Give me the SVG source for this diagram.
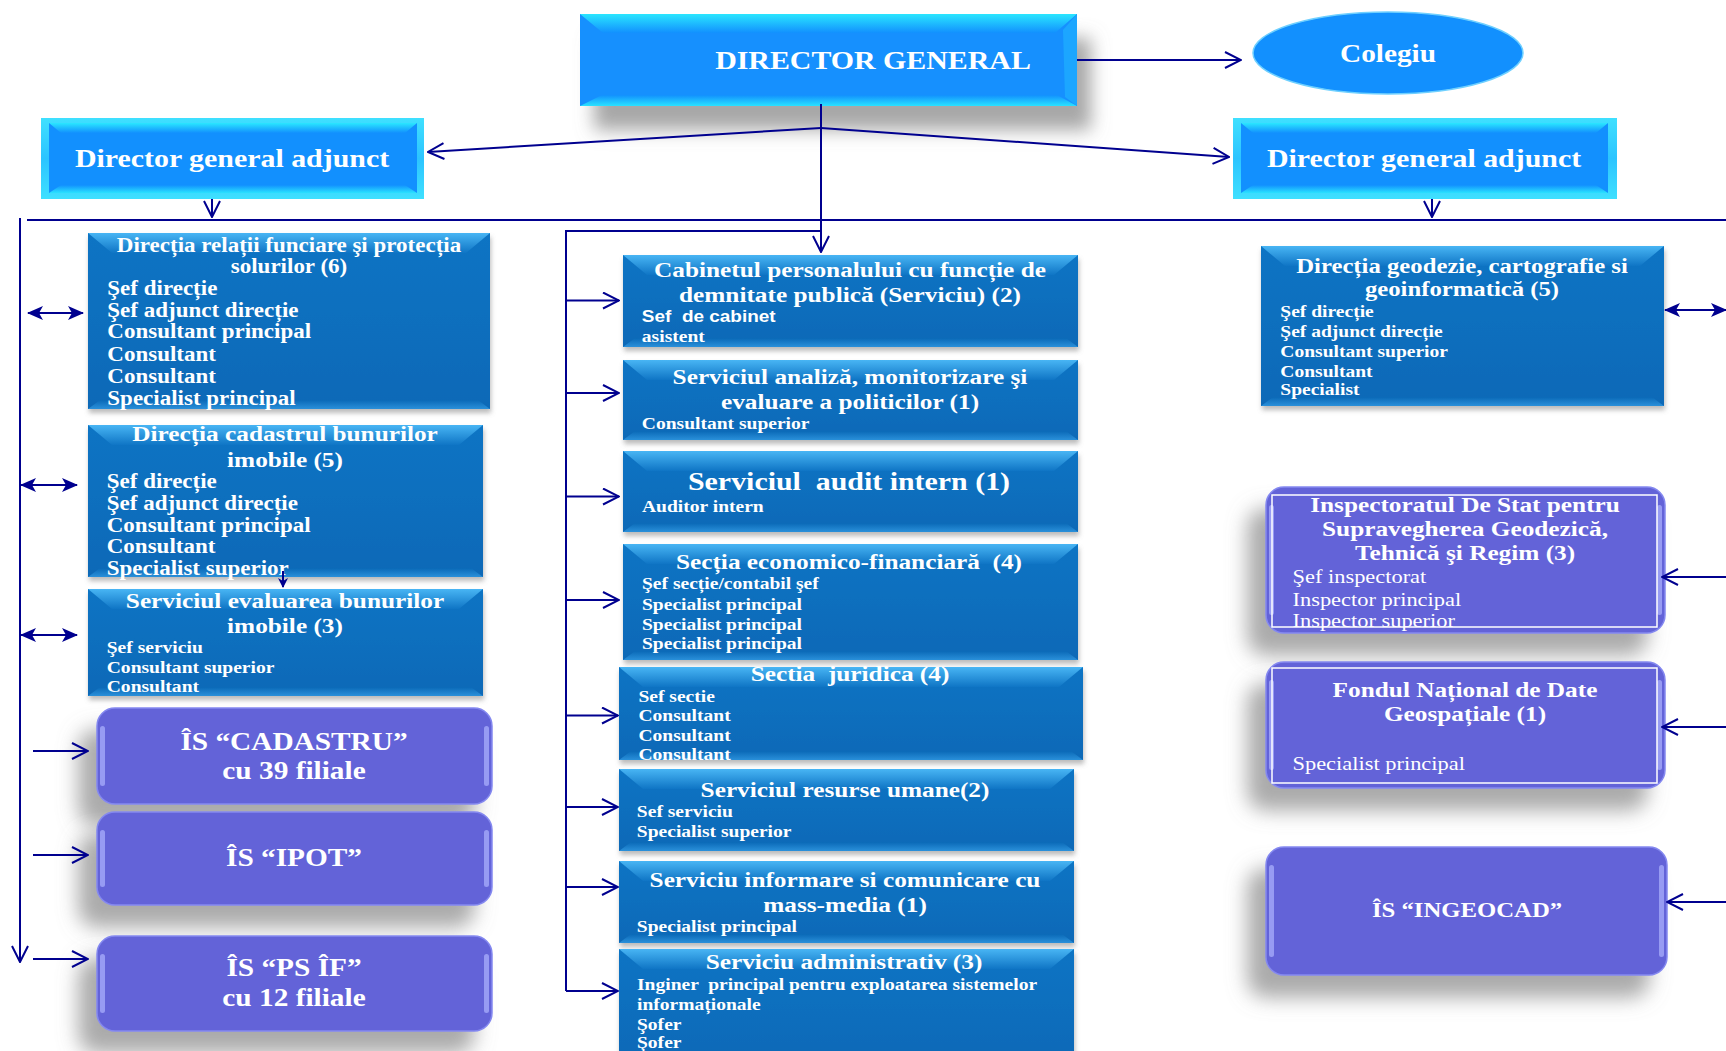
<svg xmlns="http://www.w3.org/2000/svg" width="1726" height="1051" viewBox="0 0 1726 1051">
<defs>
<style>
.t{fill:#fff;font-family:"Liberation Serif","Times New Roman",serif;font-weight:bold}
.c{text-anchor:middle}
.n{font-weight:normal}
.sans{font-family:"Liberation Sans",Arial,sans-serif}
.pre{white-space:pre}
.f165{font-size:16.5px}.f17{font-size:17px}.f195{font-size:19.5px}.f20{font-size:20px}.f215{font-size:21.5px}.f22{font-size:22px}.f255{font-size:25.5px}.f26{font-size:26px}
.mb{fill:url(#mBase);filter:url(#shS)}
.mt{fill:url(#mTop)}
.mbo{fill:url(#mBot)}
.pb{fill:#6464D8;stroke:#8488f0;stroke-width:1.5;filter:url(#shP)}
.hl{fill:#aeb4ff;opacity:.7}
.inner{fill:none;stroke:#fff;stroke-width:1.5}
.bb{fill:#1290FE}
.bt{fill:url(#bTop)}
.bbo{fill:url(#bBot)}
.cn{fill:none;stroke:#00008f;stroke-width:2}
</style>
<linearGradient id="mBase" x1="0" y1="0" x2="0" y2="1"><stop offset="0" stop-color="#0d74c4"/><stop offset="1" stop-color="#0a69b7"/></linearGradient>
<linearGradient id="mTop" x1="0" y1="0" x2="0" y2="1"><stop offset="0" stop-color="#48b5f4"/><stop offset="1" stop-color="#0f75c5"/></linearGradient>
<linearGradient id="mBot" x1="0" y1="0" x2="0" y2="1"><stop offset="0" stop-color="#0a69b7"/><stop offset="1" stop-color="#2a90da"/></linearGradient>
<linearGradient id="bTop" x1="0" y1="0" x2="0" y2="1"><stop offset="0" stop-color="#2ae6ff"/><stop offset="1" stop-color="#1290fe"/></linearGradient>
<linearGradient id="bBot" x1="0" y1="0" x2="0" y2="1"><stop offset="0" stop-color="#1290fe"/><stop offset="1" stop-color="#2ae2ff"/></linearGradient>
<linearGradient id="frame" x1="0" y1="0" x2="0" y2="1"><stop offset="0" stop-color="#3fe0ff"/><stop offset="0.5" stop-color="#2cc4ff"/><stop offset="1" stop-color="#3fe0ff"/></linearGradient>
<filter id="shD" x="-20%" y="-40%" width="150%" height="200%">
<feGaussianBlur in="SourceAlpha" stdDeviation="9"/>
<feOffset dx="14" dy="24" result="b"/>
<feFlood flood-color="#8a8a8a" flood-opacity="0.75"/>
<feComposite operator="in" in2="b"/>
<feMerge><feMergeNode/><feMergeNode in="SourceGraphic"/></feMerge>
</filter>
<filter id="shP" x="-30%" y="-40%" width="160%" height="200%">
<feGaussianBlur in="SourceAlpha" stdDeviation="10"/>
<feOffset dx="-18" dy="22" result="b"/>
<feFlood flood-color="#8f8f8f" flood-opacity="0.75"/>
<feComposite operator="in" in2="b"/>
<feMerge><feMergeNode/><feMergeNode in="SourceGraphic"/></feMerge>
</filter>
<filter id="shS" x="-10%" y="-20%" width="120%" height="150%">
<feGaussianBlur in="SourceAlpha" stdDeviation="2.5"/>
<feOffset dx="1" dy="4" result="b"/>
<feFlood flood-color="#777" flood-opacity="0.5"/>
<feComposite operator="in" in2="b"/>
<feMerge><feMergeNode/><feMergeNode in="SourceGraphic"/></feMerge>
</filter>
<marker id="open" viewBox="0 0 18 18" refX="17" refY="9" markerWidth="18" markerHeight="18" markerUnits="userSpaceOnUse" orient="auto">
<path d="M1,1 L17,9 L1,17" fill="none" stroke="#00008f" stroke-width="2"/>
</marker>
<marker id="tri" viewBox="0 0 16 14" refX="15" refY="7" markerWidth="16" markerHeight="14" markerUnits="userSpaceOnUse" orient="auto-start-reverse">
<path d="M0,0 L16,7 L0,14 L4,7 Z" fill="#00008f"/>
</marker>
<marker id="triSm" viewBox="0 0 10 10" refX="9" refY="5" markerWidth="10" markerHeight="10" markerUnits="userSpaceOnUse" orient="auto">
<path d="M0,0 L10,5 L0,10 L3,5 Z" fill="#00008f"/>
</marker>
</defs>

<rect width="1726" height="1051" fill="#fff"/>

<!-- Top level -->
<g id="n_director">
<rect x="580" y="14" width="497" height="92" class="bb" filter="url(#shD)"/>
<polygon points="580,14 1077,14 1055,33 603,33" class="bt"/>
<polygon points="580,106 602,95 1057,95 1077,106" class="bbo"/>
<polygon points="1077,14 1063,30 1065,97 1077,106" fill="#1ca6ff"/>
<g transform="translate(873 0) scale(1.15 1)"><text class="t c f26" x="0" y="69">DIRECTOR GENERAL</text></g>
</g>

<g id="n_colegiu">
<ellipse cx="1388" cy="53" rx="135" ry="41" class="bb" stroke="#6fd0ff" stroke-width="1.5"/>
<g transform="translate(1388 0) scale(1.15 1)"><text class="t c f255" x="0" y="62">Colegiu</text></g>
</g>

<g id="n_adjunct_left">
<rect x="41" y="118" width="383" height="81" fill="url(#frame)"/>
<rect x="49" y="123" width="368" height="70" class="bb"/>
<polygon points="49,123 417,123 405,133 61,133" class="bt"/>
<polygon points="49,193 61,185 405,185 417,193" class="bbo"/>
<g transform="translate(232 0) scale(1.15 1)"><text class="t c f26" x="0" y="167">Director general adjunct</text></g>
</g>

<g id="n_adjunct_right">
<rect x="1233" y="118" width="384" height="81" fill="url(#frame)"/>
<rect x="1241" y="123" width="367" height="70" class="bb"/>
<polygon points="1241,123 1608,123 1596,133 1253,133" class="bt"/>
<polygon points="1241,193 1253,185 1596,185 1608,193" class="bbo"/>
<g transform="translate(1424 0) scale(1.15 1)"><text class="t c f26" x="0" y="167">Director general adjunct</text></g>
</g>

<!-- Left column -->
<g id="n_relatii_funciare">
<rect x="88" y="233" width="402" height="176" class="mb"/>
<polygon points="88,233 490,233 466,253 112,253" class="mt"/>
<polygon points="88,409 100,400 478,400 490,409" class="mbo"/>
<g transform="translate(289 0) scale(1.15 1)">
<text class="t c f20" x="0" y="252">Direcția relații funciare şi protecția</text>
<text class="t c f20" x="0" y="273.5">solurilor (6)</text>
<text class="t f20" x="-158" y="295">Şef direcție</text>
<text class="t f20" x="-158" y="317">Şef adjunct direcție</text>
<text class="t f20" x="-158" y="338.5">Consultant principal</text>
<text class="t f20" x="-158" y="361">Consultant</text>
<text class="t f20" x="-158" y="383">Consultant</text>
<text class="t f20" x="-158" y="405">Specialist principal</text>
</g>
</g>

<g id="n_cadastrul_bunurilor">
<rect x="88" y="425" width="395" height="152" class="mb"/>
<polygon points="88,425 483,425 459,445 112,445" class="mt"/>
<polygon points="88,577 100,568 471,568 483,577" class="mbo"/>
<g transform="translate(285 0) scale(1.15 1)">
<text class="t c f22" x="0" y="441">Direcția cadastrul bunurilor</text>
<text class="t c f22" x="0" y="467">imobile (5)</text>
<text class="t f20" x="-155" y="488.5">Şef direcție</text>
<text class="t f20" x="-155" y="510.5">Şef adjunct direcție</text>
<text class="t f20" x="-155" y="532.5">Consultant principal</text>
<text class="t f20" x="-155" y="553.5">Consultant</text>
<text class="t f20" x="-155" y="575">Specialist superior</text>
</g>
</g>

<g id="n_evaluarea">
<rect x="88" y="589" width="395" height="107" class="mb"/>
<polygon points="88,589 483,589 459,609 112,609" class="mt"/>
<polygon points="88,696 100,687 471,687 483,696" class="mbo"/>
<g transform="translate(285 0) scale(1.15 1)">
<text class="t c f22" x="0" y="608.5">Serviciul evaluarea bunurilor</text>
<text class="t c f22" x="0" y="633">imobile (3)</text>
<text class="t f17" x="-155" y="653.5">Şef serviciu</text>
<text class="t f17" x="-155" y="673">Consultant superior</text>
<text class="t f17" x="-155" y="692">Consultant</text>
</g>
</g>

<g id="n_is_cadastru">
<rect x="97" y="708" width="395" height="96" rx="18" class="pb"/>
<rect x="100" y="726" width="5" height="60" rx="2.5" class="hl"/>
<rect x="484" y="726" width="5" height="60" rx="2.5" class="hl"/>
<g transform="translate(294 0) scale(1.15 1)">
<text class="t c f255" x="0" y="750.5">ÎS “CADASTRU”</text>
<text class="t c f255" x="0" y="779.5">cu 39 filiale</text>
</g>
</g>

<g id="n_is_ipot">
<rect x="97" y="812" width="395" height="93" rx="18" class="pb"/>
<rect x="100" y="830" width="5" height="57" rx="2.5" class="hl"/>
<rect x="484" y="830" width="5" height="57" rx="2.5" class="hl"/>
<g transform="translate(294 0) scale(1.15 1)">
<text class="t c f255" x="0" y="866.5">ÎS “IPOT”</text>
</g>
</g>

<g id="n_is_psif">
<rect x="97" y="936" width="395" height="95" rx="18" class="pb"/>
<rect x="100" y="954" width="5" height="59" rx="2.5" class="hl"/>
<rect x="484" y="954" width="5" height="59" rx="2.5" class="hl"/>
<g transform="translate(294 0) scale(1.15 1)">
<text class="t c f255" x="0" y="976.5">ÎS “PS ÎF”</text>
<text class="t c f255" x="0" y="1006">cu 12 filiale</text>
</g>
</g>

<!-- Middle column -->
<g id="n_cabinet">
<rect x="623" y="255" width="455" height="92" class="mb"/>
<polygon points="623,255 1078,255 1054,275 647,275" class="mt"/>
<polygon points="623,347 635,338 1066,338 1078,347" class="mbo"/>
<g transform="translate(850 0) scale(1.15 1)">
<text class="t c f22" x="0" y="277">Cabinetul personalului cu funcție de</text>
<text class="t c f22" x="0" y="302">demnitate publică (Serviciu) (2)</text>
<text class="t sans pre f165" x="-181" y="322">Sef  de cabinet</text>
<text class="t f17" x="-181" y="342">asistent</text>
</g>
</g>

<g id="n_analiza">
<rect x="623" y="360" width="455" height="80" class="mb"/>
<polygon points="623,360 1078,360 1054,380 647,380" class="mt"/>
<polygon points="623,440 635,431 1066,431 1078,440" class="mbo"/>
<g transform="translate(850 0) scale(1.15 1)">
<text class="t c f22" x="0" y="384">Serviciul analiză, monitorizare şi</text>
<text class="t c f22" x="0" y="409">evaluare a politicilor (1)</text>
<text class="t f17" x="-181" y="429">Consultant superior</text>
</g>
</g>

<g id="n_audit">
<rect x="623" y="451" width="455" height="81" class="mb"/>
<polygon points="623,451 1078,451 1054,471 647,471" class="mt"/>
<polygon points="623,532 635,523 1066,523 1078,532" class="mbo"/>
<g transform="translate(849 0) scale(1.15 1)">
<text class="t c pre f26" x="0" y="490">Serviciul  audit intern (1)</text>
<text class="t f17" x="-180" y="512">Auditor intern</text>
</g>
</g>

<g id="n_economico">
<rect x="623" y="544" width="455" height="116" class="mb"/>
<polygon points="623,544 1078,544 1054,564 647,564" class="mt"/>
<polygon points="623,660 635,651 1066,651 1078,660" class="mbo"/>
<g transform="translate(849 0) scale(1.15 1)">
<text class="t c pre f22" x="0" y="569">Secția economico-financiară  (4)</text>
<text class="t f17" x="-180" y="589">Şef secție/contabil şef</text>
<text class="t f17" x="-180" y="610">Specialist principal</text>
<text class="t f17" x="-180" y="630">Specialist principal</text>
<text class="t f17" x="-180" y="649">Specialist principal</text>
</g>
</g>

<g id="n_juridica">
<rect x="619" y="667" width="464" height="93" class="mb"/>
<polygon points="619,667 1083,667 1059,687 643,687" class="mt"/>
<polygon points="619,760 631,751 1071,751 1083,760" class="mbo"/>
<g transform="translate(850 0) scale(1.15 1)">
<text class="t c pre f22" x="0" y="681">Sectia  juridica (4)</text>
<text class="t f17" x="-184" y="702">Sef sectie</text>
<text class="t f17" x="-184" y="721">Consultant</text>
<text class="t f17" x="-184" y="741">Consultant</text>
<text class="t f17" x="-184" y="760">Consultant</text>
</g>
</g>

<g id="n_resurse_umane">
<rect x="619" y="769" width="455" height="82" class="mb"/>
<polygon points="619,769 1074,769 1050,789 643,789" class="mt"/>
<polygon points="619,851 631,842 1062,842 1074,851" class="mbo"/>
<g transform="translate(845 0) scale(1.15 1)">
<text class="t c f22" x="0" y="797">Serviciul resurse umane(2)</text>
<text class="t f17" x="-181" y="817">Sef serviciu</text>
<text class="t f17" x="-181" y="837">Specialist superior</text>
</g>
</g>

<g id="n_informare">
<rect x="619" y="861" width="455" height="82" class="mb"/>
<polygon points="619,861 1074,861 1050,881 643,881" class="mt"/>
<polygon points="619,943 631,934 1062,934 1074,943" class="mbo"/>
<g transform="translate(845 0) scale(1.15 1)">
<text class="t c f22" x="0" y="887">Serviciu informare si comunicare cu</text>
<text class="t c f22" x="0" y="912">mass-media (1)</text>
<text class="t f17" x="-181" y="932">Specialist principal</text>
</g>
</g>

<g id="n_administrativ">
<rect x="619" y="949" width="455" height="115" class="mb"/>
<polygon points="619,949 1074,949 1050,969 643,969" class="mt"/>
<g transform="translate(844 0) scale(1.15 1)">
<text class="t c f22" x="0" y="969">Serviciu administrativ (3)</text>
<text class="t pre f17" x="-180" y="990">Inginer  principal pentru exploatarea sistemelor</text>
<text class="t f17" x="-180" y="1010">informaționale</text>
<text class="t f17" x="-180" y="1030">Şofer</text>
<text class="t f17" x="-180" y="1048">Şofer</text>
</g>
</g>

<!-- Right column -->
<g id="n_geodezie">
<rect x="1261" y="246" width="403" height="160" class="mb"/>
<polygon points="1261,246 1664,246 1640,266 1285,266" class="mt"/>
<polygon points="1261,406 1273,397 1652,397 1664,406" class="mbo"/>
<g transform="translate(1462 0) scale(1.15 1)">
<text class="t c f215" x="0" y="273">Direcția geodezie, cartografie si</text>
<text class="t c f215" x="0" y="296">geoinformatică (5)</text>
<text class="t f17" x="-158" y="317">Şef direcție</text>
<text class="t f17" x="-158" y="337">Şef adjunct direcție</text>
<text class="t f17" x="-158" y="357">Consultant superior</text>
<text class="t f17" x="-158" y="377">Consultant</text>
<text class="t f17" x="-158" y="395">Specialist</text>
</g>
</g>

<g id="n_inspectorat">
<rect x="1266" y="487" width="399" height="146" rx="18" class="pb"/>
<rect x="1269" y="505" width="5" height="110" rx="2.5" class="hl"/>
<rect x="1657" y="505" width="5" height="110" rx="2.5" class="hl"/>
<rect x="1272" y="495" width="385" height="132" class="inner"/>
<g transform="translate(1465 0) scale(1.15 1)">
<text class="t c f22" x="0" y="512">Inspectoratul De Stat pentru</text>
<text class="t c f22" x="0" y="536">Supravegherea Geodezică,</text>
<text class="t c f22" x="0" y="560">Tehnică şi Regim (3)</text>
<text class="t n f195" x="-150" y="583">Şef inspectorat</text>
<text class="t n f195" x="-150" y="606">Inspector principal</text>
<text class="t n f195" x="-150" y="627">Inspector superior</text>
</g>
</g>

<g id="n_fondul">
<rect x="1266" y="662" width="399" height="126" rx="18" class="pb"/>
<rect x="1269" y="680" width="5" height="90" rx="2.5" class="hl"/>
<rect x="1657" y="680" width="5" height="90" rx="2.5" class="hl"/>
<rect x="1272" y="668" width="385" height="115" class="inner"/>
<g transform="translate(1465 0) scale(1.15 1)">
<text class="t c f22" x="0" y="697">Fondul Național de Date</text>
<text class="t c f22" x="0" y="721">Geospațiale (1)</text>
<text class="t n f195" x="-150" y="770">Specialist principal</text>
</g>
</g>

<g id="n_ingeocad">
<rect x="1266" y="847" width="401" height="128" rx="18" class="pb"/>
<rect x="1269" y="865" width="5" height="92" rx="2.5" class="hl"/>
<rect x="1659" y="865" width="5" height="92" rx="2.5" class="hl"/>
<g transform="translate(1467 0) scale(1.15 1)">
<text class="t c f215" x="0" y="917">ÎS “INGEOCAD”</text>
</g>
</g>

<!-- Connectors -->
<g id="connectors" class="cn">
<line x1="1077" y1="60" x2="1241" y2="60" marker-end="url(#open)"/>
<line x1="821" y1="104" x2="821" y2="252" marker-end="url(#open)"/>
<line x1="821" y1="128" x2="428" y2="152" marker-end="url(#open)"/>
<line x1="821" y1="128" x2="1229" y2="157" marker-end="url(#open)"/>
<line x1="212" y1="199" x2="212" y2="217" marker-end="url(#open)"/>
<line x1="1432" y1="199" x2="1432" y2="217" marker-end="url(#open)"/>
<line x1="27" y1="220" x2="1726" y2="220"/>
<line x1="20" y1="218" x2="20" y2="962" marker-end="url(#open)"/>
<path d="M821,231 H566 V991"/>
<line x1="566" y1="300.5" x2="619" y2="300.5" marker-end="url(#open)"/>
<line x1="566" y1="393" x2="619" y2="393" marker-end="url(#open)"/>
<line x1="566" y1="496.5" x2="619" y2="496.5" marker-end="url(#open)"/>
<line x1="566" y1="600" x2="619" y2="600" marker-end="url(#open)"/>
<line x1="566" y1="715.5" x2="618" y2="715.5" marker-end="url(#open)"/>
<line x1="566" y1="807" x2="618" y2="807" marker-end="url(#open)"/>
<line x1="566" y1="887" x2="618" y2="887" marker-end="url(#open)"/>
<line x1="566" y1="991" x2="618" y2="991" marker-end="url(#open)"/>
<line x1="28" y1="313" x2="83" y2="313" marker-start="url(#tri)" marker-end="url(#tri)"/>
<line x1="21" y1="485" x2="77" y2="485" marker-start="url(#tri)" marker-end="url(#tri)"/>
<line x1="21" y1="635" x2="77" y2="635" marker-start="url(#tri)" marker-end="url(#tri)"/>
<line x1="283" y1="571" x2="283" y2="587" marker-end="url(#triSm)"/>
<line x1="33" y1="751" x2="88" y2="751" marker-end="url(#open)"/>
<line x1="33" y1="855" x2="88" y2="855" marker-end="url(#open)"/>
<line x1="33" y1="959" x2="88" y2="959" marker-end="url(#open)"/>
<line x1="1665" y1="310" x2="1726" y2="310" marker-start="url(#tri)" marker-end="url(#tri)"/>
<line x1="1726" y1="577" x2="1662" y2="577" marker-end="url(#open)"/>
<line x1="1726" y1="727" x2="1662" y2="727" marker-end="url(#open)"/>
<line x1="1726" y1="902" x2="1667" y2="902" marker-end="url(#open)"/>
</g>
</svg>
